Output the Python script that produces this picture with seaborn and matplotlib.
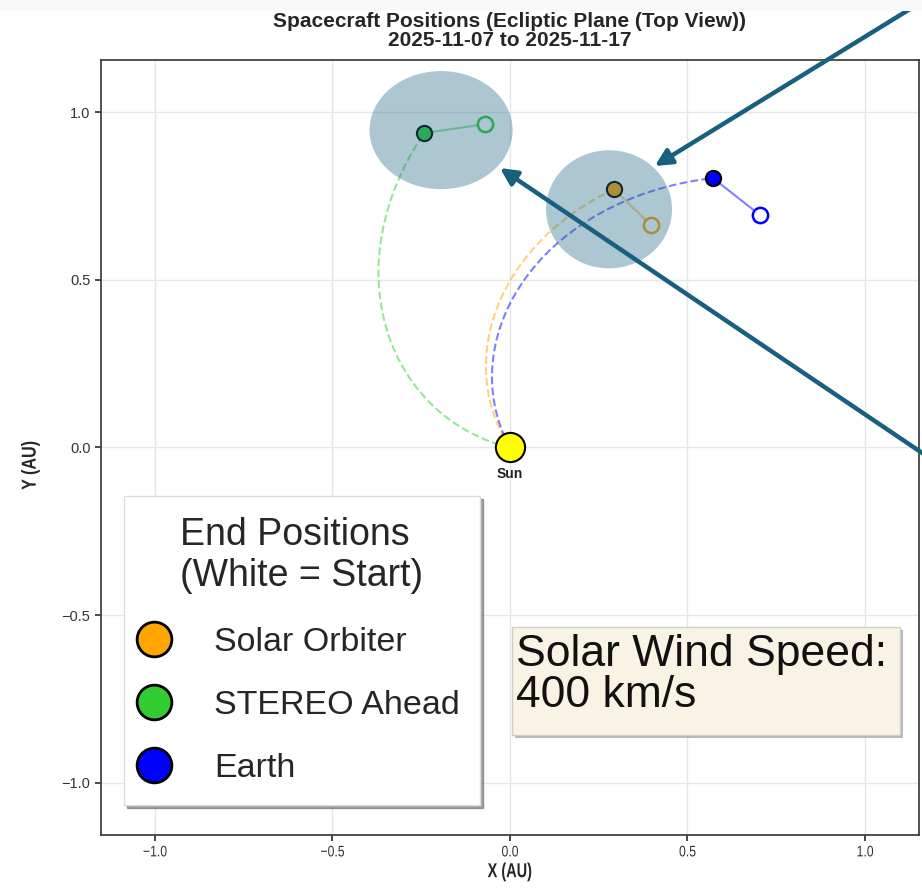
import numpy as np
import matplotlib
matplotlib.use("Agg")
import matplotlib.pyplot as plt
import matplotlib.patheffects as pe
from matplotlib.lines import Line2D
from matplotlib.patches import Ellipse, Rectangle
from matplotlib.transforms import Affine2D
import seaborn as sns

# Spacecraft positions (AU)
craft_names = ["Solar Orbiter", "STEREO Ahead", "Earth"]
craft_colors = ["orange", "limegreen", "blue"]
start_x = [0.397, -0.070, 0.704]
start_y = [0.663, 0.964, 0.693]
end_x = [0.293, -0.242, 0.572]
end_y = [0.770, 0.937, 0.803]

wind_speed_kms = 400

# highlighted regions (centre x, centre y, width, height) and arrow tip/tail
highlight_x = [-0.194, 0.279]
highlight_y = [0.946, 0.710]
highlight_w = [0.403, 0.355]
highlight_h = [0.352, 0.352]
arrow_tip = [(0.408, 0.839), (-0.028, 0.833)]
arrow_tail = [(1.60, 1.615), (1.60, -0.33)]

OMEGA_SUN = 2.97e-6   # rad/s
AU_KM = 1.496e8


class Condense(pe.AbstractPathEffect):
    """squeeze text horizontally around its centre (no narrow font installed)"""
    def __init__(self, sx):
        super().__init__()
        self.sx = sx

    def draw_path(self, renderer, gc, tpath, affine, rgbFace=None):
        ext = tpath.get_extents()
        cx = (ext.x0 + ext.x1) / 2
        squeeze = Affine2D().translate(-cx, 0).scale(self.sx, 1).translate(cx, 0)
        renderer.draw_path(gc, tpath, squeeze + affine, rgbFace)


sns.set_theme(style="whitegrid", rc={
    "grid.color": "#e6e6e6",
    "xtick.bottom": True, "ytick.left": True,
    "xtick.major.size": 4, "ytick.major.size": 4,
    "xtick.color": "#333333", "ytick.color": "#333333",
    "axes.edgecolor": "#333333",
})
plt.rcParams["font.family"] = ["Liberation Sans", "DejaVu Sans"]

fig = plt.figure(figsize=(9.22, 8.93), dpi=100)
ax = fig.add_axes([0.1095, 0.065, 0.8872, 0.8678])

# Parker spirals from the Sun out to each end position
for name, col, ex, ey in zip(craft_names, craft_colors, end_x, end_y):
    r_end = np.hypot(ex, ey)
    phi_end = np.arctan2(ey, ex)
    r = np.linspace(0, r_end, 200)
    phi = phi_end + OMEGA_SUN * AU_KM * (r_end - r) / wind_speed_kms
    sns.lineplot(x=r * np.cos(phi), y=r * np.sin(phi), sort=False, estimator=None,
                 color=col, linestyle="--", linewidth=1.5, alpha=0.5, ax=ax, zorder=2)

# trails, start (hollow) and end (filled) markers
for col, sx, sy, ex, ey in zip(craft_colors, start_x, start_y, end_x, end_y):
    ax.plot([sx, ex], [sy, ey], color=col, linewidth=1.5, alpha=0.5, zorder=3)
    ax.plot(sx, sy, "o", markersize=11, markerfacecolor="white",
            markeredgecolor=col, markeredgewidth=1.8, zorder=4)
    sns.scatterplot(x=[ex], y=[ey], s=120, color=col, edgecolor="black",
                    linewidth=1.5, ax=ax, zorder=5, legend=False)

# Sun
ax.plot(0, 0, "o", markersize=21, markerfacecolor="yellow",
        markeredgecolor="black", markeredgewidth=1.5, zorder=5)
ax.text(0, -0.078, "Sun", ha="center", va="center", fontsize=10,
        fontweight="bold", color="#222222", zorder=6)

# highlight ellipses and arrows
for hx, hy, hw, hh in zip(highlight_x, highlight_y, highlight_w, highlight_h):
    ax.add_patch(Ellipse((hx, hy), hw, hh, facecolor="#266c8a", alpha=0.38,
                         edgecolor="none", zorder=6))
for tip, tail in zip(arrow_tip, arrow_tail):
    ax.annotate("", xy=tip, xytext=tail, annotation_clip=False, zorder=7,
                arrowprops=dict(arrowstyle="-|>", color="#176080", lw=3.2,
                                mutation_scale=25, shrinkA=0, shrinkB=0))

ax.set_xlim(-1.152, 1.152)
ax.set_ylim(-1.155, 1.155)
ax.set_xticks([-1.0, -0.5, 0.0, 0.5, 1.0])
ax.set_yticks([-1.0, -0.5, 0.0, 0.5, 1.0])
ax.tick_params(axis="y", labelsize=10.5)
ax.tick_params(axis="x", labelsize=11)
for lab in ax.get_xticklabels():
    lab.set_path_effects([Condense(0.8)])
for sp in ax.spines.values():
    sp.set_linewidth(1.2)
xl = ax.set_xlabel("X (AU)", fontsize=14.5, fontweight="bold", labelpad=2)
yl = ax.set_ylabel("Y (AU)", fontsize=14.5, fontweight="bold")
xl.set_path_effects([Condense(0.72)])
yl.set_path_effects([Condense(0.8)])
ax.yaxis.set_label_coords(-0.075, 0.477)
ax.set_title("Spacecraft Positions (Ecliptic Plane (Top View))\n2025-11-07 to 2025-11-17",
             fontsize=15, fontweight="bold", linespacing=1.0, pad=10)

# legend
handles = [Line2D([], [], marker="o", linestyle="", markersize=25,
                  markerfacecolor=c, markeredgecolor="black", markeredgewidth=2)
           for c in craft_colors]
leg = ax.legend(handles, craft_names, title="End Positions\n(White = Start)",
                loc="lower left", bbox_to_anchor=(0.028, 0.039), borderaxespad=0,
                fontsize=24.5, title_fontsize=27, handlelength=0.55, handletextpad=1.5,
                labelspacing=0.95, borderpad=0.6, frameon=True, fancybox=False,
                shadow=True, framealpha=1)
leg.get_frame().set_edgecolor("#dddddd")
leg.set_zorder(10)

# wind speed box (drawn as its own patch so the padding matches)
box = Rectangle((0.5024, 0.129), 0.4744, 0.1394, transform=ax.transAxes,
                facecolor="#f9f3e6", edgecolor="#cfcfcf", linewidth=1, zorder=9)
box.set_path_effects([
    pe.SimplePatchShadow(offset=(2.5, -2.5), shadow_rgbFace="#999999", alpha=0.7),
    pe.Normal()])
ax.add_patch(box)
ax.text(0.5073, 0.2594, f"Solar Wind Speed:\n{wind_speed_kms} km/s",
        transform=ax.transAxes, fontsize=32, ha="left", va="top",
        linespacing=1.0, zorder=10, color="#111111")

# light strip across the very top of the screenshot
fig.patches.append(Rectangle((0, 1 - 11 / 893), 1, 11 / 893, transform=fig.transFigure,
                             facecolor="#f8f9fb", edgecolor="none", zorder=20))

fig.savefig("out.png", dpi=100)
